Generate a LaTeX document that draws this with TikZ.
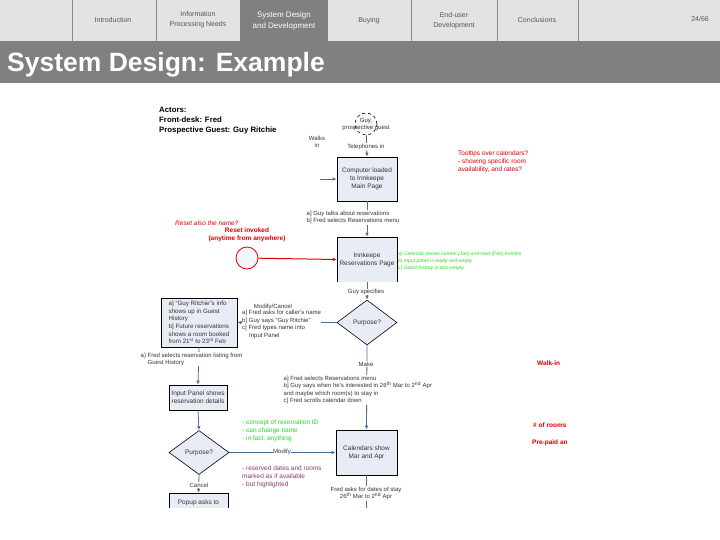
\documentclass[tikz,border=0pt]{standalone}
\usepackage{fontspec}
\setmainfont{Liberation Sans}
\usetikzlibrary{shapes.geometric,arrows.meta}
\definecolor{navbg}{HTML}{E3E3E3}
\definecolor{darkbar}{HTML}{808080}
\definecolor{navsep}{HTML}{8A8A8A}
\definecolor{navtext}{HTML}{555555}
\definecolor{boxfill}{HTML}{E8ECF5}
\definecolor{linkc}{HTML}{4F6D9A}
\definecolor{redc}{HTML}{E00000}
\definecolor{greenc}{HTML}{22DD22}
\definecolor{purplec}{HTML}{8A3A6A}
\definecolor{txtc}{HTML}{333333}
\newcommand\fsflow{\fontsize{6.5}{8}\selectfont}
\newcommand\fssmall{\fontsize{6}{7.6}\selectfont}
\newcommand\fsgreen{\fontsize{5}{7}\selectfont}
\newcommand\fsnav{\fontsize{7}{10}\selectfont}
\begin{document}
\begin{tikzpicture}[x=1pt,y=-1pt,
  navlbl/.style={text=navtext, font=\fsnav, align=center, inner sep=0pt},
  flowbox/.style={draw=black, line width=0.6pt, fill=boxfill, inner sep=0pt, align=center, font=\fsflow, text=txtc},
  decision/.style={diamond, draw=black, line width=0.6pt, fill=boxfill, inner sep=0pt, align=center, font=\fsflow, text=txtc},
  conn/.style={draw=linkc, line width=0.8pt, -{Latex[length=4pt,width=3.5pt]}},
  lbl/.style={fill=white, inner sep=0.5pt, font=\fssmall, text=txtc, align=center},
  lbll/.style={fill=white, inner sep=0.5pt, font=\fssmall, text=txtc, align=left}]
\useasboundingbox (0,0) rectangle (720,540);
\fill[white] (0,0) rectangle (720,540);
% navigation bar
\fill[navbg] (0,0) rectangle (720,41);
\fill[darkbar] (0,41) rectangle (720,83);
\fill[darkbar] (240,0) rectangle (328,41);
\foreach \xx in {72,156,411,497,578} \draw[navsep, line width=0.8pt] (\xx,0) -- (\xx,41);
\node[navlbl] (n1) at (113,20) {Introduction};
\node[navlbl] (n2) at (198,20) {Information\\Processing Needs};
\node[navlbl, text=white, font=\fontsize{8}{11}\selectfont] (n3) at (284,20.5) {System Design\\and Development};
\node[navlbl] (n4) at (369,21) {Buying};
\node[navlbl] (n5) at (454,20.5) {End-user\\Development};
\node[navlbl] (n6) at (537,20) {Conclusions};
\node[navlbl, anchor=east] (n7) at (709,19.5) {24/66};
\node[anchor=base west, text=white, inner sep=0pt, font=\fontsize{26.5}{30}\selectfont\bfseries] (title) at (7,72) {System Design: Example};
% actors
\node[anchor=north west, inner sep=0pt, align=left, font=\fontsize{7.8}{10}\selectfont\bfseries] (actors) at (159,107) {Actors:\\Front-desk: Fred\\Prospective Guest: Guy Ritchie};
% guy circle
\node[circle, draw=black, dashed, line width=0.6pt, fill=boxfill!40, minimum size=22pt, inner sep=0pt] (guy) at (366,124) {};
\node[font=\fontsize{6}{7}\selectfont, text=txtc, align=center, inner sep=0pt] (guyt) at (366,125) {Guy,\\prospective guest};
\node[font=\fssmall, text=txtc, align=center, inner sep=0pt] (walks) at (317,142) {Walks\\in};
\coordinate (walkin) at (320,179);
% boxes
\node[flowbox, minimum width=60pt, minimum height=44pt] (comp) at (367,179) {Computer loaded\\to Innkeepe\\Main Page};
\node[fill=boxfill, minimum width=60pt, minimum height=45pt, inner sep=0pt, align=center, font=\fsflow, text=txtc] (res) at (367,259.5) {Innkeepe\\Reservations Page};
\draw[black, line width=0.6pt] (res.south west) -- (res.north west) -- (res.north east) -- (res.south east);
\node[decision, minimum width=60pt, minimum height=45pt] (dia1) at (367,322.5) {Purpose?};
\node[flowbox, minimum width=76pt, minimum height=49pt, align=left, font=\fontsize{6.2}{7.6}\selectfont] (gbox) at (199,322.5) {a] ``Guy Ritchie''s info\\shows up in Guest\\History\\b] Future reservations\\shows a room booked\\from 21\textsuperscript{st} to 23\textsuperscript{rd} Feb};
\node[flowbox, minimum width=58pt, minimum height=25pt] (ipanel) at (198,397.5) {Input Panel shows\\reservation details};
\node[decision, minimum width=60pt, minimum height=44pt] (dia2) at (199,452.5) {Purpose?};
\node[flowbox, minimum width=61pt, minimum height=45pt] (cal) at (366.5,452.5) {Calendars show\\Mar and Apr};
\node[fill=boxfill, minimum width=59pt, minimum height=15pt, inner sep=0pt] (popup) at (198.5,500.5) {};
\draw[black, line width=0.6pt] (popup.south west) -- (popup.north west) -- (popup.north east) -- (popup.south east);
\node[font=\fsflow, text=txtc, inner sep=0pt] (popt) at (198.5,503) {Popup asks to};
\coordinate (calend) at (366.5,508);
% reset circle
\node[circle, draw=redc, line width=0.8pt, fill=boxfill!50, minimum size=22pt, inner sep=0pt] (reset) at (247,258) {};
% connectors
\draw[conn] (guy) -- (comp.north);
\node[lbl] (tel) at (366,146.5) {Telephones in};
\draw[conn] (walkin) -- (comp.west);
\draw[conn] (comp) -- (res.north);
\node[lbll, anchor=west] (talks) at (306,217.5) {a] Guy talks about reservations\\b] Fred selects Reservations menu};
\draw[conn, draw=redc, line width=1pt] (reset) -- (res.west);
\draw[conn] (res.south) -- (dia1.north);
\node[lbl] (spec) at (366,292) {Guy specifies};
\draw[conn] (dia1.west) -- (gbox.east);
\node[lbl] (modc) at (273,307) {Modify/Cancel};
\node[lbll, anchor=north west, inner sep=0pt] (modtxt) at (242,310) {a] Fred asks for caller's name\\b] Guy says ``Guy Ritchie''\\c] Fred types name into\\\hspace*{7pt}Input Panel};
\draw[conn] (gbox.south) -- (ipanel.north);
\node[lbll, anchor=north west] (fsel) at (140,352) {a) Fred selects reservation listing from\\\hspace*{7pt}Guest History};
\draw[conn] (ipanel.south) -- (dia2.north);
\draw[conn] (dia2.east) -- (cal.west);
\node[lbl] (modify) at (282,452) {Modify};
\draw[conn] (dia2.south) -- (popup.north);
\node[lbl] (cancel) at (199,485) {Cancel};
\draw[conn] (dia1.south) -- (cal.north);
\node[lbl] (make) at (366,364) {Make};
\node[lbll, anchor=north west] (maketxt) at (283,375) {a] Fred selects Reservations menu\\b] Guy says when he's interested in 26\textsuperscript{th} Mar to 2\textsuperscript{nd} Apr\\and maybe which room(s) to stay in\\c] Fred scrolls calendar down};
\draw[draw=linkc, line width=0.8pt] (cal.south) -- (calend);
\node[lbl] (dates) at (366,493.5) {Fred asks for dates of stay\\26\textsuperscript{th} Mar to 2\textsuperscript{nd} Apr};
% annotations
\node[anchor=west, inner sep=0pt, text=redc, font=\fsflow\itshape] (ralso) at (175,223) {Reset also the name?};
\node[inner sep=0pt, text=redc, align=center, font=\fsflow\bfseries] (rinv) at (247,235) {Reset invoked\\(anytime from anywhere)};
\node[anchor=west, inner sep=0pt, text=greenc, align=left, font=\fsgreen\itshape] (green1) at (398,261) {a) Calendar shows current (Jan) and next (Feb) months\\b) Input panel is ready and empty\\c) Guest history is also empty};
\node[anchor=west, inner sep=0pt, text=redc, align=left, font=\fsflow] (tips) at (458,161.5) {Tooltips over calendars?\\- showing specific room\\availability, and rates?};
\node[anchor=west, inner sep=0pt, text=greenc, align=left, font=\fsflow] (green2) at (242,431) {- concept of reservation ID\\- can change name\\- in fact, anything};
\node[anchor=west, inner sep=0pt, text=purplec, align=left, font=\fsflow] (purp) at (242,477) {- reserved dates and rooms\\marked as if available\\- but highlighted};
\node[anchor=west, inner sep=0pt, text=redc, font=\fsflow\bfseries] (walkr) at (537,363) {Walk-in};
\node[anchor=west, inner sep=0pt, text=redc, font=\fsflow\bfseries] (rooms) at (533,425) {\# of rooms};
\node[anchor=west, inner sep=0pt, text=redc, font=\fsflow\bfseries] (prepaid) at (532,443) {Pre-paid an};
\end{tikzpicture}
\end{document}
